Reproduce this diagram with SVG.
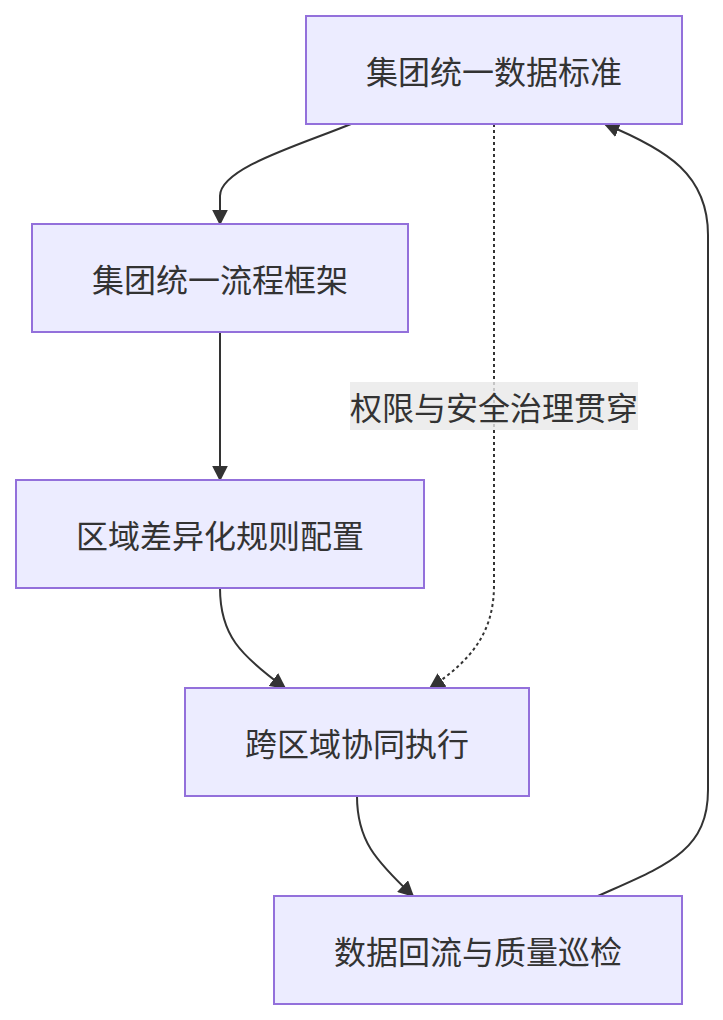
<svg xmlns="http://www.w3.org/2000/svg" width="723" height="1020" viewBox="0 0 723 1020">
<style>
.node rect{fill:#ECECFF;stroke:#9370DB;stroke-width:2}
.node text,.lbl text{font-family:"Noto Sans CJK SC","Noto Sans",sans-serif;font-size:32px;fill:#333;text-anchor:middle;dominant-baseline:central}
.edge{fill:none;stroke:#333;stroke-width:2}
.dot{stroke-dasharray:3 3}
</style>
<defs>
<marker id="arr" viewBox="0 0 10 10" refX="9" refY="5" markerWidth="16" markerHeight="16" markerUnits="userSpaceOnUse" orient="auto">
<path d="M0,0 L10,5 L0,10 z" fill="#333"/>
</marker>
</defs>
<rect width="723" height="1020" fill="#fff"/>
<g id="connectors">
<path class="edge" d="M351,124 C300,145 220,168 220,196 L220,224" marker-end="url(#arr)"/>
<path class="edge" d="M220,332 L220,480" marker-end="url(#arr)"/>
<path class="edge" d="M220,588 C220,635 240,655 285,688" marker-end="url(#arr)"/>
<path class="edge dot" d="M494,124 L494,585 C494,632 472,660 430,688" marker-end="url(#arr)"/>
<path class="edge" d="M357,796 C357,840 375,860 413,896" marker-end="url(#arr)"/>
<path class="edge" d="M598,896 C665,866 708,852 708,790 L708,235 C708,175 668,150 605,124" marker-end="url(#arr)"/>
<g class="lbl" id="label-e4">
<rect x="350" y="382" width="288" height="48" fill="#e8e8e8" fill-opacity="0.8"/>
<text x="494" y="406">权限与安全治理贯穿</text>
</g>
</g>
<g id="n1" class="node"><rect x="306" y="16" width="376" height="108"/><text x="494" y="70">集团统一数据标准</text></g>
<g id="n2" class="node"><rect x="32" y="224" width="376" height="108"/><text x="220" y="278">集团统一流程框架</text></g>
<g id="n3" class="node"><rect x="16" y="480" width="408" height="108"/><text x="220" y="534">区域差异化规则配置</text></g>
<g id="n4" class="node"><rect x="185" y="688" width="344" height="108"/><text x="357" y="742">跨区域协同执行</text></g>
<g id="n5" class="node"><rect x="274" y="896" width="408" height="108"/><text x="478" y="950">数据回流与质量巡检</text></g>
</svg>
